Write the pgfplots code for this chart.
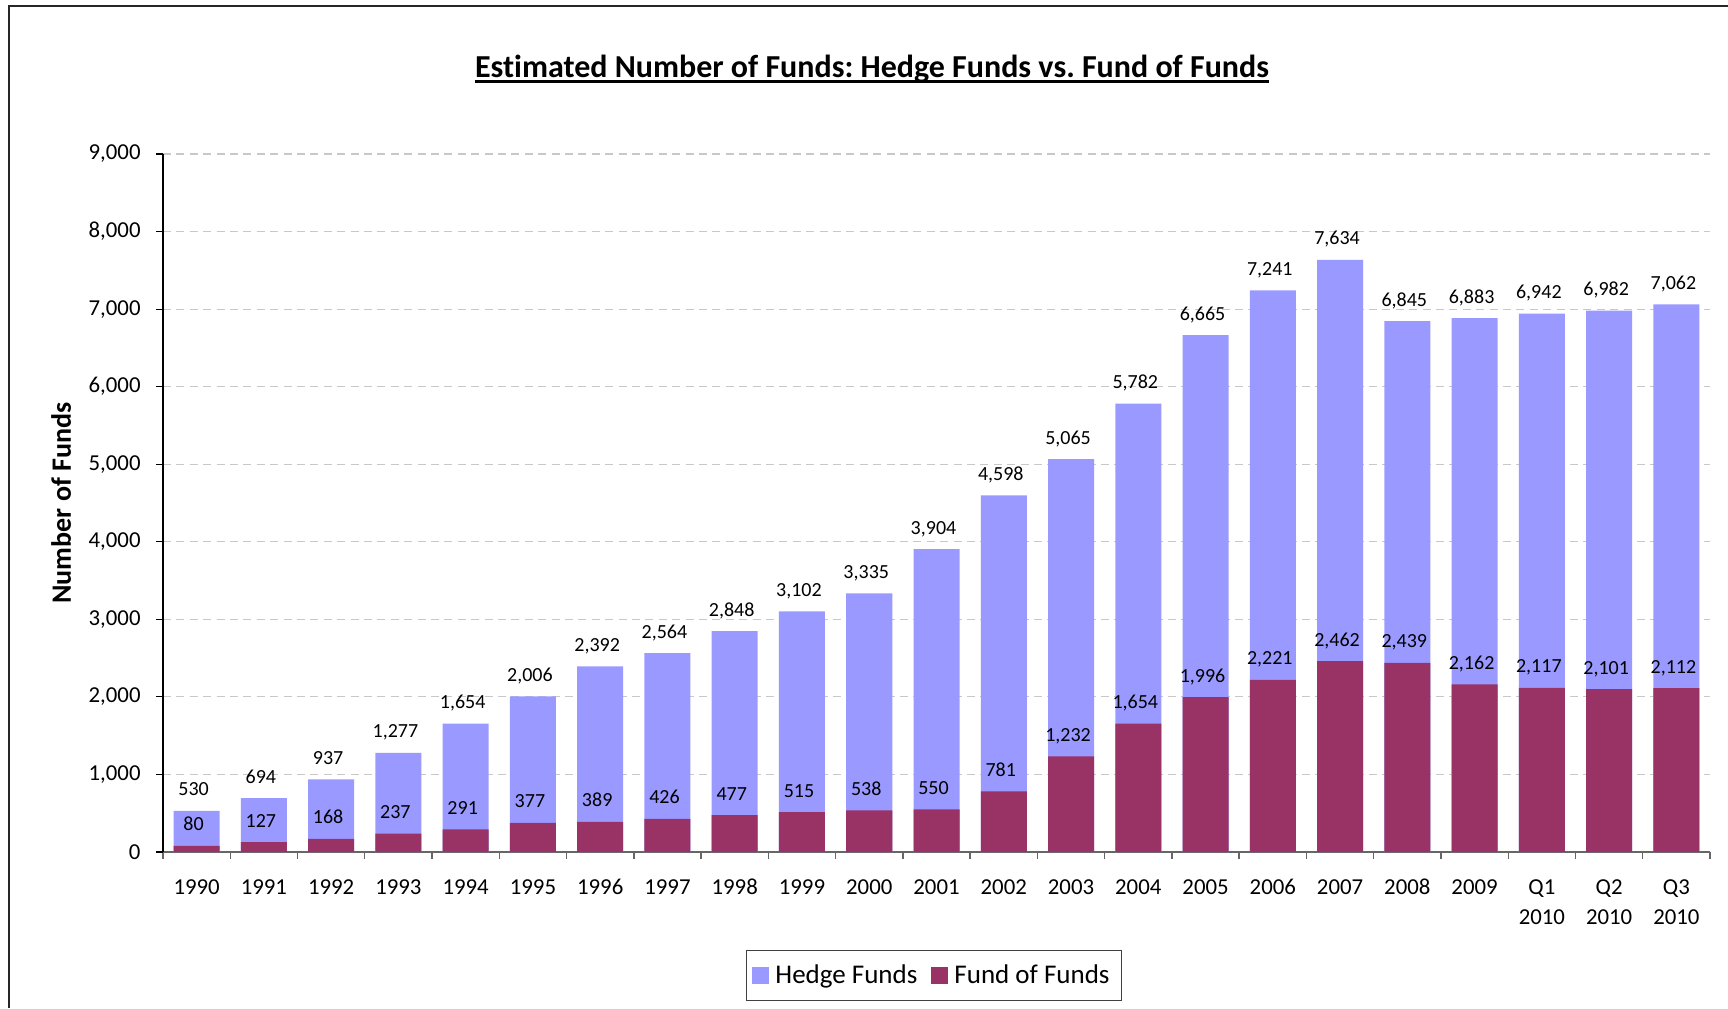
\documentclass[border=0pt]{standalone}
\usepackage{fontspec}
\setmainfont{Carlito}[Ligatures=NoCommon]
\usepackage{pgfplots}
\pgfplotsset{compat=1.18}
\frenchspacing

\definecolor{hedge}{HTML}{9999FF}
\definecolor{fof}{HTML}{993366}
\definecolor{gridgray}{HTML}{C8C8C8}

% bold title with a thick underline
\newcommand\ultitle[1]{\setbox0\hbox{#1}\rlap{\rule[-2.8pt]{\wd0}{1.4pt}}\box0}

\begin{document}
\begin{tikzpicture}
\begin{axis}[
    at={(81.5pt,78pt)}, anchor=south west,
    scale only axis, width=773.5pt, height=349pt,
    xmin=-0.5, xmax=22.5, ymin=0, ymax=9000,
    clip=false,
    axis x line*=bottom, axis y line*=left,
    x axis line style={draw=black!60, line width=0.8pt},
    y axis line style={draw=black, line width=0.6pt},
    tick align=outside, major tick length=3.5pt,
    xtick style={draw=black!60, line width=0.7pt},
    ytick style={draw=black, line width=0.6pt},
    xtick={-0.5,0.5,...,22.5},
    xticklabels={1990,1991,1992,1993,1994,1995,1996,1997,1998,1999,2000,2001,2002,2003,2004,2005,2006,2007,2008,2009,{Q1\\2010},{Q2\\2010},{Q3\\2010},{}},
    xticklabel style={xshift=16.815pt, align=center, anchor=north, yshift=-6.6pt,
        font=\fontsize{11.4}{15.4}\selectfont},
    ytick={0,1000,...,9000},
    yticklabel style={font=\fontsize{11.4}{13}\selectfont, xshift=-4.2pt},
    scaled y ticks=false,
    /pgf/number format/.cd, 1000 sep={,}, assume math mode=true, /pgfplots/.cd,
    ymajorgrids,
    major grid style={draw=gridgray, dash pattern=on 4pt off 2.7pt, line width=0.6pt},
    ylabel={\textbf{Number of Funds}},
    every axis y label/.style={at={(axis description cs:-0.0659,0.5)}, rotate=90, anchor=center,
        font=\fontsize{14}{16}\selectfont},
    title={\ultitle{\textbf{Estimated Number of Funds: Hedge Funds vs. Fund of Funds}}},
    title style={at={(axis description cs:0.4583,1)}, anchor=base, yshift=32.2pt,
        font=\fontsize{16}{19}\selectfont},
    every node near coord/.append style={font=\fontsize{10}{12}\selectfont, anchor=base, yshift=7.5pt, xshift=-1.5pt, text=black},
    legend columns=2,
    legend style={at={(axis description cs:0.4984,-0.1769)}, anchor=center,
        draw=black!75, line width=0.6pt, font=\fontsize{13.5}{15}\selectfont,
        inner xsep=3pt, inner ysep=5pt,
        /tikz/every even column/.append style={column sep=4pt}},
    legend image code/.code={\fill[#1] (0pt,-4.25pt) rectangle (8.5pt,4.25pt);},
    legend style={nodes={inner xsep=3pt}},
]
\addplot[ybar, bar shift=0pt, bar width=23pt, fill=hedge, draw=none, nodes near coords]
  coordinates {(0,530) (1,694) (2,937) (3,1277) (4,1654) (5,2006) (6,2392) (7,2564)
    (8,2848) (9,3102) (10,3335) (11,3904) (12,4598) (13,5065) (14,5782) (15,6665)
    (16,7241) (17,7634) (18,6845) (19,6883) (20,6942) (21,6982) (22,7062)};
\addlegendentry{Hedge Funds}
\addplot[ybar, bar shift=0pt, bar width=23pt, fill=fof, draw=none, nodes near coords]
  coordinates {(0,80) (1,127) (2,168) (3,237) (4,291) (5,377) (6,389) (7,426)
    (8,477) (9,515) (10,538) (11,550) (12,781) (13,1232) (14,1654) (15,1996)
    (16,2221) (17,2462) (18,2439) (19,2162) (20,2117) (21,2101) (22,2112)};
\addlegendentry{Fund of Funds}
\end{axis}
\draw[black!85, line width=1pt] (4.3pt,0) -- (4.3pt,501pt) -- (864pt,501pt);
\pgfresetboundingbox
\path[use as bounding box] (0,0) rectangle (864pt,504pt);
\end{tikzpicture}
\end{document}
